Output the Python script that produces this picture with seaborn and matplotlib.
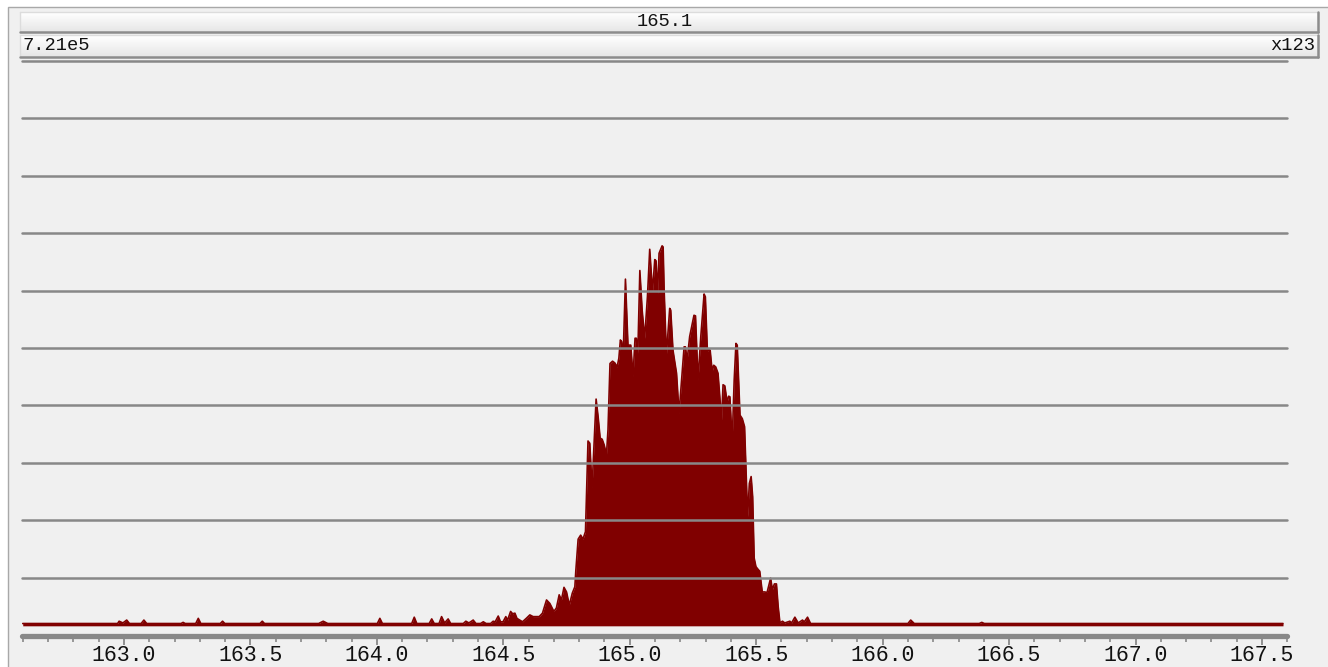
import numpy as np
import matplotlib
matplotlib.use("Agg")
import matplotlib.pyplot as plt
import seaborn as sns
from matplotlib.patches import Rectangle
from matplotlib.lines import Line2D
from matplotlib.ticker import MultipleLocator

# ---------------- data ----------------
mz = [
    162.600, 162.975, 162.981, 162.996, 163.011, 163.022, 163.068, 163.079, 163.090,
    163.226, 163.234, 163.242, 163.284, 163.294, 163.304, 163.381, 163.390, 163.399,
    163.538, 163.547, 163.556, 163.770, 163.788, 163.806, 164.002, 164.012, 164.022,
    164.138, 164.148, 164.158, 164.207, 164.217, 164.227, 164.246, 164.256, 164.268,
    164.282, 164.292, 164.342, 164.352, 164.364, 164.381, 164.392, 164.410, 164.421,
    164.432, 164.450, 164.460, 164.468, 164.480, 164.489, 164.499, 164.510, 164.517,
    164.529, 164.537, 164.546, 164.554, 164.565, 164.576, 164.591, 164.605, 164.618,
    164.642, 164.655, 164.671, 164.684, 164.700, 164.710, 164.721, 164.730, 164.740,
    164.750, 164.761, 164.773, 164.783, 164.787, 164.796, 164.806, 164.815, 164.825,
    164.835, 164.842, 164.851, 164.859, 164.867, 164.875, 164.883, 164.891, 164.899,
    164.908, 164.914, 164.922, 164.932, 164.941, 164.950, 164.957, 164.963, 164.968,
    164.974, 164.983, 164.993, 165.004, 165.013, 165.021, 165.026, 165.032, 165.040,
    165.049, 165.059, 165.070, 165.079, 165.090, 165.099, 165.104, 165.110, 165.116,
    165.128, 165.132, 165.136, 165.145, 165.158, 165.162, 165.171, 165.185, 165.195,
    165.205, 165.215, 165.220, 165.227, 165.237, 165.246, 165.254, 165.260, 165.270,
    165.281, 165.294, 165.299, 165.307, 165.312, 165.318, 165.326, 165.332, 165.340,
    165.349, 165.363, 165.369, 165.376, 165.385, 165.391, 165.396, 165.405, 165.413,
    165.420, 165.425, 165.436, 165.445, 165.454, 165.459, 165.466, 165.473, 165.480,
    165.486, 165.492, 165.499, 165.508, 165.514, 165.524, 165.534, 165.543, 165.552,
    165.557, 165.564, 165.572, 165.580, 165.587, 165.594, 165.604, 165.613, 165.633,
    165.640, 165.653, 165.666, 165.683, 165.690, 165.703, 165.715, 166.100, 166.111,
    166.125, 166.382, 166.392, 166.402, 167.583,
]
intensity = [
    2.0, 2.0, 2.4, 2.1, 2.6, 2.0, 2.0, 2.6, 2.0,
    2.0, 2.2, 2.0, 2.0, 2.9, 2.0, 2.0, 2.4, 2.0,
    2.0, 2.4, 2.0, 2.0, 2.4, 2.0, 2.0, 2.9, 2.0,
    2.0, 3.1, 2.0, 2.0, 2.8, 2.0, 2.0, 3.2, 2.1,
    2.8, 2.0, 2.0, 2.4, 2.1, 2.6, 2.0, 2.0, 2.3,
    2.0, 2.0, 2.4, 2.3, 3.3, 2.3, 2.3, 3.2, 2.6,
    4.1, 3.7, 3.8, 2.9, 2.6, 2.3, 2.9, 3.5, 3.2,
    3.2, 3.8, 6.1, 5.5, 4.1, 4.7, 7.0, 6.1, 8.3,
    7.5, 5.2, 7.3, 8.4, 11.3, 16.7, 17.4, 16.7, 18.0,
    33.8, 33.4, 25.6, 33.4, 41.1, 38.0, 34.3, 34.1, 33.1,
    31.4, 35.7, 47.3, 47.7, 47.4, 46.7, 48.2, 51.4, 51.1,
    48.5, 62.0, 50.5, 50.5, 45.0, 51.7, 51.7, 49.1, 63.5,
    56.6, 51.7, 58.9, 67.2, 59.8, 65.4, 65.2, 59.5, 66.5,
    67.8, 67.6, 60.1, 48.8, 56.9, 56.6, 49.6, 45.6, 38.6,
    44.4, 50.2, 50.2, 47.9, 52.0, 54.0, 55.7, 55.6, 44.4,
    52.0, 59.4, 58.9, 49.4, 49.8, 49.6, 45.9, 47.0, 46.7,
    45.6, 37.5, 43.6, 43.4, 40.6, 41.6, 41.5, 33.7, 44.4,
    50.8, 50.5, 38.3, 37.7, 36.3, 29.9, 20.6, 26.4, 27.6,
    24.1, 13.4, 11.9, 11.4, 11.1, 7.5, 7.5, 7.4, 9.0,
    9.9, 7.9, 8.9, 8.9, 4.9, 2.1, 2.4, 2.1, 2.4,
    2.1, 3.1, 2.1, 2.6, 2.3, 3.1, 2.0, 2.0, 2.6,
    2.0, 2.0, 2.2, 2.0, 2.0,
]
tick_values = [163.0, 163.5, 164.0, 164.5, 165.0, 165.5, 166.0, 166.5, 167.0, 167.5]
tick_labels = ["163.0", "163.5", "164.0", "164.5", "165.0",
               "165.5", "166.0", "166.5", "167.0", "167.5"]
header_title = "165.1"
header_left = "7.21e5"
header_right = "x123"

# ---------------- style ----------------
W, H = 1328, 667
sns.set_theme(style="white")
plt.rcParams["font.family"] = ["Liberation Mono", "DejaVu Sans"]

BG = "#f0f0f0"
MAROON = "#800000"
GRID = "#888888"

fig = plt.figure(figsize=(W / 100, H / 100), dpi=100, facecolor="white")


def fx(px):
    return px / W


def fy(py):
    return 1 - py / H


# outer panel
fig.add_artist(Rectangle((fx(8), -0.05), 1.0, fy(7) + 0.05, transform=fig.transFigure,
                         facecolor=BG, edgecolor="#a8a8a8", lw=1.0, zorder=0))


def header_box(x0, y0, x1, y1):
    hax = fig.add_axes([fx(x0), fy(y1), (x1 - x0) / W, (y1 - y0) / H], zorder=1)
    grad = np.linspace(1.0, 0.90, 64).reshape(-1, 1)
    hax.imshow(grad, aspect="auto", cmap="gray", vmin=0, vmax=1, extent=[0, 1, 0, 1])
    hax.set_axis_off()
    kw = dict(transform=fig.transFigure, zorder=5)
    fig.add_artist(Line2D([fx(x0), fx(x1)], [fy(y0), fy(y0)], color="#dcdcdc", lw=1.0, **kw))
    fig.add_artist(Line2D([fx(x0), fx(x0)], [fy(y0), fy(y1)], color="#dcdcdc", lw=1.0, **kw))
    fig.add_artist(Line2D([fx(x0), fx(x1)], [fy(y1), fy(y1)], color="#8c8c8c", lw=1.8, **kw))
    fig.add_artist(Line2D([fx(x1), fx(x1)], [fy(y0), fy(y1)], color="#8c8c8c", lw=1.8, **kw))


header_box(20, 12, 1318, 32)
header_box(20, 35, 1318, 57)

fig.text(fx(665), fy(22), header_title, ha="center", va="center", fontsize=13.5,
         color="#111111", zorder=6)
fig.text(fx(23), fy(46), header_left, ha="left", va="center", fontsize=13.5,
         color="#111111", zorder=6)
fig.text(fx(1315), fy(46), header_right, ha="right", va="center", fontsize=13.5,
         color="#111111", zorder=6)

# main plot axes
ax = fig.add_axes([fx(22), fy(635), (1287.3 - 22) / W, (635 - 61) / H], zorder=2)
ax.patch.set_alpha(0)

ax.fill_between(mz, intensity, 1.6, color=MAROON, lw=0, zorder=2)
sns.lineplot(x=mz, y=intensity, ax=ax, color=MAROON, lw=1.2, zorder=3,
             estimator=None, sort=False)

for gy in range(10, 101, 10):
    ax.axhline(gy, color=GRID, lw=1.8, zorder=4, clip_on=False)

# bottom axis bar
ax.axhline(-0.26, color=GRID, lw=3.8, solid_capstyle="round", zorder=4, clip_on=False)

ax.set_xlim(162.597, 167.600)
ax.set_ylim(0, 100)
ax.set_yticks([])
ax.set_xticks(tick_values)
ax.set_xticklabels(tick_labels)
ax.xaxis.set_minor_locator(MultipleLocator(0.1))
ax.tick_params(axis="x", which="both", bottom=True, direction="out", color=GRID)
ax.tick_params(axis="x", which="major", length=7.5, width=1.3, pad=0,
               labelsize=15.5, labelcolor="#111111")
ax.tick_params(axis="x", which="minor", length=5, width=1.2)
for s in ax.spines.values():
    s.set_visible(False)
ax.set_xlabel("")
ax.set_ylabel("")

fig.savefig("out.png", dpi=100, facecolor="white")
